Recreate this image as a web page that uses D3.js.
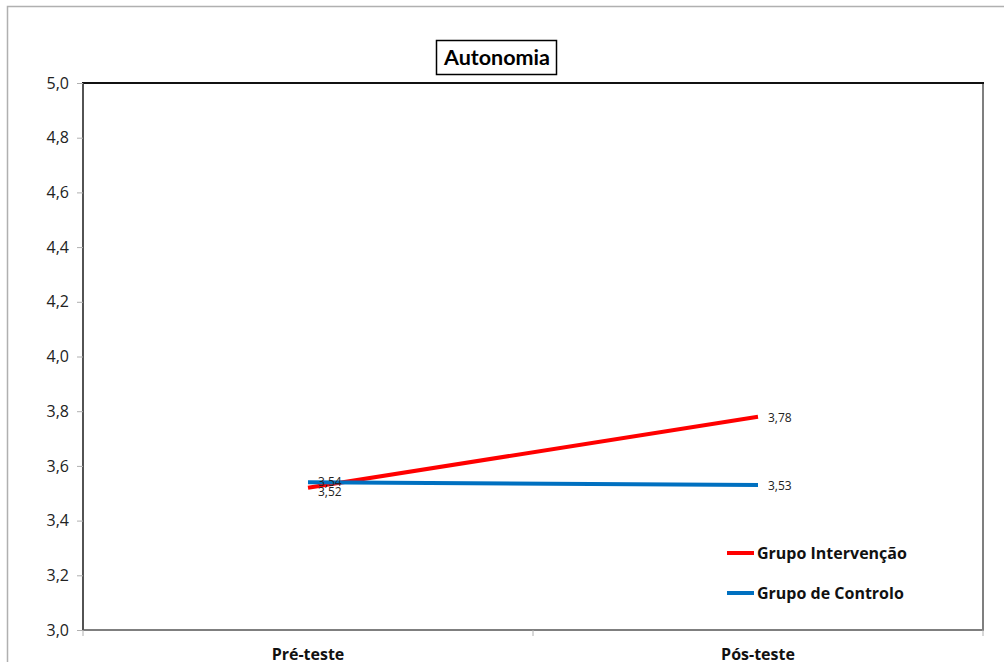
<!DOCTYPE html>
<html>
<head>
<meta charset="utf-8">
<script src="https://cdn.jsdelivr.net/npm/d3@7"></script>
<style>
  body { margin: 0; background: #fff; }
  svg { display: block; font-family: "Open Sans", "DejaVu Sans", sans-serif; }
</style>
</head>
<body>
<svg id="chart" width="1004" height="662"></svg>
<script>
// Mean "Autonomia" scores, pre and post test, per group
const categories = ["Pré-teste", "Pós-teste"];
const seriesNames = ["Grupo Intervenção", "Grupo de Controlo"];
const intervencao = [3.52, 3.78];
const controlo = [3.54, 3.53];
const yTicks = [3.0, 3.2, 3.4, 3.6, 3.8, 4.0, 4.2, 4.4, 4.6, 4.8, 5.0];
const colors = ["#ff0000", "#0070c0"];

const series = [
  { name: seriesNames[0], values: intervencao, color: colors[0], dy: 8 },
  { name: seriesNames[1], values: controlo, color: colors[1], dy: 4 }
];

const svg = d3.select("#chart");
const fmt = v => d3.format(".2f")(v).replace(".", ",");
const fmtTick = v => d3.format(".1f")(v).replace(".", ",");

// outer chart frame (left and top edges)
svg.append("path")
  .attr("d", "M7.5,662 V6.5 H1004")
  .attr("fill", "none").attr("stroke", "#b0b0b0").attr("stroke-width", 1.5);

const plot = { left: 83, top: 83, right: 983, bottom: 630 };

const x = d3.scaleBand().domain(categories).range([plot.left, plot.right]);
const y = d3.scaleLinear().domain([3, 5]).range([plot.bottom, plot.top]);

// plot area frame
svg.append("rect")
  .attr("x", plot.left).attr("y", plot.top)
  .attr("width", plot.right - plot.left).attr("height", plot.bottom - plot.top)
  .attr("fill", "#fff").attr("stroke", "#7f7f7f").attr("stroke-width", 2);
svg.append("line")
  .attr("x1", plot.left - 1).attr("x2", plot.right + 1)
  .attr("y1", plot.top).attr("y2", plot.top)
  .attr("stroke", "#111").attr("stroke-width", 2);
svg.append("line")
  .attr("x1", plot.left).attr("x2", plot.left)
  .attr("y1", plot.top).attr("y2", plot.bottom)
  .attr("stroke", "#444").attr("stroke-width", 1.5);

// y axis
const yAxis = svg.append("g")
  .attr("transform", `translate(${plot.left},0)`)
  .call(d3.axisLeft(y).tickValues(yTicks).tickFormat(fmtTick).tickSize(6).tickPadding(8));
yAxis.select(".domain").remove();
yAxis.selectAll(".tick line").attr("stroke", "#b0b0b0");
yAxis.selectAll(".tick text")
  .attr("font-size", 16).attr("fill", "#222")
  .attr("font-family", "'Open Sans', sans-serif");

// x axis: ticks between categories
const xAxisG = svg.append("g").attr("transform", `translate(0,${plot.bottom})`);
const boundaries = [plot.left, plot.left + x.bandwidth(), plot.right];
xAxisG.selectAll("line.sep").data(boundaries).join("line")
  .attr("x1", d => d).attr("x2", d => d)
  .attr("y1", 0).attr("y2", 6)
  .attr("stroke", "#b0b0b0").attr("stroke-width", 1);
xAxisG.selectAll("text.cat").data(categories).join("text")
  .attr("x", d => x(d) + x.bandwidth() / 2)
  .attr("y", 30)
  .attr("text-anchor", "middle")
  .attr("font-size", 16).attr("font-weight", "bold").attr("fill", "#111")
  .attr("font-family", "'Open Sans', sans-serif")
  .text(d => d);

// lines
const line = d3.line()
  .x((d, i) => x(categories[i]) + x.bandwidth() / 2)
  .y(d => y(d));

series.forEach(s => {
  svg.append("path")
    .datum(s.values)
    .attr("d", line)
    .attr("fill", "none")
    .attr("stroke", s.color)
    .attr("stroke-width", 4);
});

// value labels
series.forEach(s => {
  svg.append("g").selectAll("text").data(s.values).join("text")
    .attr("x", (d, i) => x(categories[i]) + x.bandwidth() / 2 + 10)
    .attr("y", (d, i) => y(d) + (i === 0 ? s.dy : 5))
    .attr("font-size", 12).attr("fill", "#222")
    .attr("font-family", "'Open Sans', sans-serif")
    .text(d => fmt(d));
});

// legend
const legend = svg.append("g").attr("transform", "translate(727,553)");
series.forEach((s, i) => {
  const g = legend.append("g").attr("transform", `translate(0,${i * 40})`);
  g.append("line").attr("x1", 0).attr("x2", 27).attr("y1", 0).attr("y2", 0)
    .attr("stroke", s.color).attr("stroke-width", 4);
  g.append("text").attr("x", 30).attr("y", 6)
    .attr("font-size", 16).attr("font-weight", "bold").attr("fill", "#111")
    .attr("font-family", "'Open Sans', sans-serif")
    .text(s.name);
});

// title with framed box
const titleG = svg.append("g");
const titleBox = titleG.append("rect");
const title = titleG.append("text")
  .attr("x", 497).attr("y", 65)
  .attr("text-anchor", "middle")
  .attr("font-size", 21.5).attr("font-weight", "bold").attr("fill", "#000")
  .attr("font-family", "Lato, 'Open Sans', sans-serif")
  .text("Autonomia");
const bb = title.node().getBBox();
titleBox
  .attr("x", Math.round(bb.x) - 6.5).attr("y", 40.5)
  .attr("width", Math.round(bb.width) + 13).attr("height", 34)
  .attr("fill", "#fff").attr("stroke", "#000").attr("stroke-width", 1.5);
</script>
</body>
</html>
